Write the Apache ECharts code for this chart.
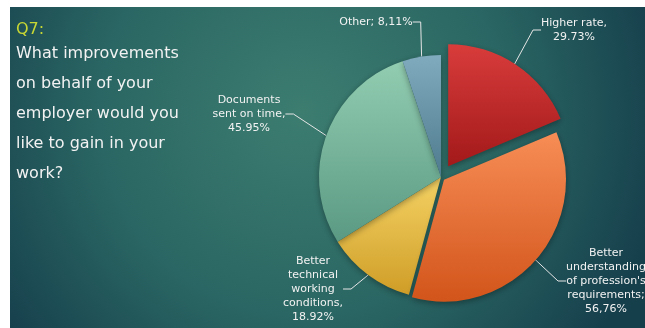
<!DOCTYPE html>
<html>
<head>
<meta charset="utf-8">
<script src="https://cdn.jsdelivr.net/npm/echarts@6/dist/echarts.min.js"></script>
<style>
  html, body { margin: 0; padding: 0; background: #ffffff; }
  #chart { width: 645px; height: 328px; }
</style>
</head>
<body>
<div id="chart"></div>
<script>
// Survey answers (multiple choice, so shares add up past 100%)
const categories = [
  'Higher rate',
  'Better\nunderstanding\nof profession\'s\nrequirements',
  'Better\ntechnical\nworking\nconditions',
  'Documents\nsent on time',
  'Other'
];
const values = [29.73, 56.76, 18.92, 45.95, 8.11];
const separators = [',\n', ';\n', ',\n', ',\n', '; '];
const decimalMarks = ['.', ',', '.', '.', ','];

const questionTag = 'Q7:';
const questionLines = [
  'What improvements',
  'on behalf of your',
  'employer would you',
  'like to gain in your',
  'work?'
];

// slice fills: top colour, bottom colour
const sliceFills = [
  ['#d83c3b', '#a3191a'],
  ['#f78d56', '#d2551b'],
  ['#f4d264', '#cf9d27'],
  ['#92cdb1', '#5a9983'],
  ['#80aabe', '#4f7b8f']
];
// how far each slice is pulled out from the centre (px)
const pullOut = [13, 4, 0, 0, 0];
// where each slice's label sits (centre of the text block)
const labelSpots = [
  [574, 30],
  [606, 281],
  [313, 289],
  [249, 114],
  [376, 22]
];

const FONT = 'DejaVu Sans';
const CENTER = [441, 177];
const RADIUS = 122;
const CLEAR = 'rgba(0,0,0,0)';

function gradient(pair) {
  return {
    type: 'linear', x: 0, y: 0, x2: 0, y2: 1,
    colorStops: [{ offset: 0, color: pair[0] }, { offset: 1, color: pair[1] }]
  };
}

function valueText(i) {
  return values[i].toFixed(2).replace('.', decimalMarks[i]) + '%';
}

// centre of a pie whose slice i is pushed outwards along its bisector
function shiftedCenter(i) {
  const total = values.reduce((a, b) => a + b, 0);
  let before = 0;
  for (let k = 0; k < i; k++) before += values[k];
  const mid = (before + values[i] / 2) / total * Math.PI * 2;
  return [CENTER[0] + Math.sin(mid) * pullOut[i], CENTER[1] - Math.cos(mid) * pullOut[i]];
}

const sliceShadow = {
  shadowBlur: 6,
  shadowColor: 'rgba(0,0,0,0.35)',
  shadowOffsetY: 2
};

function pieLayer(visible, withLabels, center) {
  return {
    type: 'pie',
    center: center,
    radius: [0, RADIUS],
    startAngle: 90,
    clockwise: true,
    silent: !withLabels,
    emphasis: { disabled: true },
    itemStyle: sliceShadow,
    data: categories.map((name, i) => ({
      name: name,
      value: values[i],
      itemStyle: { color: visible(i) ? gradient(sliceFills[i]) : CLEAR }
    })),
    label: withLabels ? {
      show: true,
      position: 'outside',
      color: '#f2f2f2',
      fontFamily: FONT,
      fontSize: 11,
      lineHeight: 14,
      align: 'center',
      formatter: p => categories[p.dataIndex] + separators[p.dataIndex] + valueText(p.dataIndex)
    } : { show: false },
    labelLine: withLabels ? {
      show: true,
      length: 8,
      length2: 8,
      lineStyle: { color: '#e6e6e6', width: 1 }
    } : { show: false },
    labelLayout: withLabels ? (p => ({
      x: labelSpots[p.dataIndex][0],
      y: labelSpots[p.dataIndex][1],
      align: 'center',
      verticalAlign: 'middle'
    })) : undefined
  };
}

const series = [pieLayer(i => pullOut[i] === 0, true, CENTER)];
pullOut.forEach((off, i) => {
  if (off > 0) series.push(pieLayer(k => k === i, false, shiftedCenter(i)));
});

const titleRich = {
  q: { color: '#c8d733', fontSize: 16, fontFamily: FONT, fontWeight: 'normal', lineHeight: 18 },
  t: { color: '#f2f2f2', fontSize: 16, fontFamily: FONT, fontWeight: 'normal', lineHeight: 30 }
};

const chart = echarts.init(document.getElementById('chart'), null, { renderer: 'canvas' });
chart.setOption({
  animation: false,
  graphic: [{
    type: 'rect',
    z: -10,
    shape: { x: 10, y: 7, width: 635, height: 321 },
    style: {
      fill: {
        type: 'radial', x: 0.46, y: 0.33, r: 1.15,
        colorStops: [
          { offset: 0, color: '#3c7d70' },
          { offset: 0.55, color: '#2a6663' },
          { offset: 1, color: '#163f4c' }
        ]
      }
    },
    silent: true
  }],
  title: {
    left: 11,
    top: 16,
    text: ['{q|' + questionTag + '}']
      .concat(questionLines.map(l => '{t|' + l + '}')).join('\n'),
    textStyle: { fontWeight: 'normal', rich: titleRich }
  },
  series: series
});
</script>
</body>
</html>
